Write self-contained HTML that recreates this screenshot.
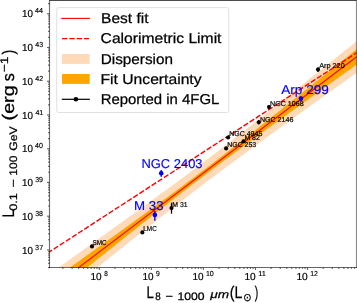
<!DOCTYPE html><html><head><meta charset="utf-8"><style>html,body{margin:0;padding:0;background:#fff;overflow:hidden}svg{display:block;will-change:transform}</style></head><body><svg width="357" height="303" viewBox="0 0 357 303" font-family='"Liberation Sans", sans-serif' text-rendering="geometricPrecision"><rect width="357" height="303" fill="#fff"/><defs><clipPath id="ax"><rect x="49.5" y="0" width="307.0" height="267.5"/></clipPath></defs><g clip-path="url(#ax)"><path d="M47.50,275.57 L50.09,273.72 L52.68,271.86 L55.28,270.00 L57.87,268.15 L60.46,266.29 L63.05,264.43 L65.64,262.58 L68.23,260.72 L70.83,258.86 L73.42,257.00 L76.01,255.14 L78.60,253.28 L81.19,251.42 L83.78,249.56 L86.38,247.70 L88.97,245.84 L91.56,243.98 L94.15,242.12 L96.74,240.26 L99.33,238.39 L101.92,236.53 L104.52,234.66 L107.11,232.80 L109.70,230.93 L112.29,229.07 L114.88,227.20 L117.47,225.33 L120.07,223.46 L122.66,221.59 L125.25,219.72 L127.84,217.85 L130.43,215.97 L133.03,214.10 L135.62,212.22 L138.21,210.34 L140.80,208.46 L143.39,206.58 L145.98,204.70 L148.57,202.81 L151.17,200.93 L153.76,199.04 L156.35,197.15 L158.94,195.25 L161.53,193.36 L164.12,191.46 L166.72,189.56 L169.31,187.65 L171.90,185.74 L174.49,183.83 L177.08,181.91 L179.67,179.99 L182.27,178.07 L184.86,176.14 L187.45,174.21 L190.04,172.27 L192.63,170.33 L195.22,168.38 L197.82,166.43 L200.41,164.47 L203.00,162.51 L205.59,160.54 L208.18,158.57 L210.78,156.59 L213.37,154.61 L215.96,152.62 L218.55,150.63 L221.14,148.63 L223.73,146.63 L226.32,144.63 L228.92,142.62 L231.51,140.60 L234.10,138.58 L236.69,136.56 L239.28,134.54 L241.88,132.51 L244.47,130.48 L247.06,128.45 L249.65,126.41 L252.24,124.37 L254.83,122.33 L257.43,120.29 L260.02,118.24 L262.61,116.19 L265.20,114.14 L267.79,112.09 L270.38,110.04 L272.98,107.98 L275.57,105.93 L278.16,103.87 L280.75,101.81 L283.34,99.75 L285.93,97.69 L288.52,95.63 L291.12,93.57 L293.71,91.51 L296.30,89.44 L298.89,87.38 L301.48,85.31 L304.07,83.25 L306.67,81.18 L309.26,79.11 L311.85,77.04 L314.44,74.97 L317.03,72.90 L319.62,70.83 L322.22,68.76 L324.81,66.69 L327.40,64.62 L329.99,62.55 L332.58,60.48 L335.18,58.40 L337.77,56.33 L340.36,54.26 L342.95,52.18 L345.54,50.11 L348.13,48.04 L350.73,45.96 L353.32,43.89 L355.91,41.81 L358.50,39.74 L358.50,71.41 L355.91,73.27 L353.32,75.12 L350.73,76.98 L348.13,78.84 L345.54,80.69 L342.95,82.55 L340.36,84.41 L337.77,86.27 L335.18,88.12 L332.58,89.98 L329.99,91.84 L327.40,93.70 L324.81,95.56 L322.22,97.42 L319.62,99.28 L317.03,101.14 L314.44,103.01 L311.85,104.87 L309.26,106.73 L306.67,108.59 L304.07,110.46 L301.48,112.32 L298.89,114.19 L296.30,116.05 L293.71,117.92 L291.12,119.79 L288.52,121.66 L285.93,123.53 L283.34,125.40 L280.75,127.27 L278.16,129.14 L275.57,131.02 L272.98,132.89 L270.38,134.77 L267.79,136.65 L265.20,138.53 L262.61,140.41 L260.02,142.29 L257.43,144.18 L254.83,146.07 L252.24,147.96 L249.65,149.85 L247.06,151.74 L244.47,153.64 L241.88,155.54 L239.28,157.44 L236.69,159.35 L234.10,161.26 L231.51,163.17 L228.92,165.09 L226.32,167.01 L223.73,168.94 L221.14,170.87 L218.55,172.80 L215.96,174.74 L213.37,176.68 L210.78,178.63 L208.18,180.59 L205.59,182.54 L203.00,184.51 L200.41,186.48 L197.82,188.45 L195.22,190.43 L192.63,192.41 L190.04,194.40 L187.45,196.40 L184.86,198.39 L182.27,200.40 L179.67,202.40 L177.08,204.42 L174.49,206.43 L171.90,208.45 L169.31,210.47 L166.72,212.50 L164.12,214.53 L161.53,216.56 L158.94,218.59 L156.35,220.63 L153.76,222.67 L151.17,224.71 L148.57,226.76 L145.98,228.80 L143.39,230.85 L140.80,232.90 L138.21,234.95 L135.62,237.01 L133.03,239.06 L130.43,241.12 L127.84,243.17 L125.25,245.23 L122.66,247.29 L120.07,249.35 L117.47,251.41 L114.88,253.48 L112.29,255.54 L109.70,257.61 L107.11,259.67 L104.52,261.74 L101.92,263.80 L99.33,265.87 L96.74,267.94 L94.15,270.01 L91.56,272.08 L88.97,274.15 L86.38,276.22 L83.78,278.29 L81.19,280.36 L78.60,282.43 L76.01,284.50 L73.42,286.57 L70.83,288.65 L68.23,290.72 L65.64,292.79 L63.05,294.87 L60.46,296.94 L57.87,299.01 L55.28,301.09 L52.68,303.16 L50.09,305.24 L47.50,307.31 Z" fill="#FFDAB9"/><path d="M47.50,283.67 L50.09,281.81 L52.68,279.96 L55.28,278.10 L57.87,276.24 L60.46,274.39 L63.05,272.53 L65.64,270.67 L68.23,268.82 L70.83,266.96 L73.42,265.10 L76.01,263.24 L78.60,261.38 L81.19,259.52 L83.78,257.66 L86.38,255.80 L88.97,253.94 L91.56,252.08 L94.15,250.22 L96.74,248.35 L99.33,246.49 L101.92,244.63 L104.52,242.76 L107.11,240.90 L109.70,239.03 L112.29,237.16 L114.88,235.30 L117.47,233.43 L120.07,231.56 L122.66,229.69 L125.25,227.82 L127.84,225.94 L130.43,224.07 L133.03,222.20 L135.62,220.32 L138.21,218.44 L140.80,216.56 L143.39,214.68 L145.98,212.80 L148.57,210.91 L151.17,209.03 L153.76,207.14 L156.35,205.25 L158.94,203.35 L161.53,201.45 L164.12,199.56 L166.72,197.65 L169.31,195.75 L171.90,193.84 L174.49,191.93 L177.08,190.01 L179.67,188.09 L182.27,186.17 L184.86,184.24 L187.45,182.31 L190.04,180.37 L192.63,178.43 L195.22,176.48 L197.82,174.53 L200.41,172.57 L203.00,170.61 L205.59,168.64 L208.18,166.67 L210.78,164.69 L213.37,162.71 L215.96,160.72 L218.55,158.73 L221.14,156.73 L223.73,154.73 L226.32,152.72 L228.92,150.71 L231.51,148.70 L234.10,146.68 L236.69,144.66 L239.28,142.64 L241.88,140.61 L244.47,138.58 L247.06,136.54 L249.65,134.51 L252.24,132.47 L254.83,130.43 L257.43,128.38 L260.02,126.34 L262.61,124.29 L265.20,122.24 L267.79,120.19 L270.38,118.14 L272.98,116.08 L275.57,114.03 L278.16,111.97 L280.75,109.91 L283.34,107.85 L285.93,105.79 L288.52,103.73 L291.12,101.67 L293.71,99.60 L296.30,97.54 L298.89,95.47 L301.48,93.41 L304.07,91.34 L306.67,89.28 L309.26,87.21 L311.85,85.14 L314.44,83.07 L317.03,81.00 L319.62,78.93 L322.22,76.86 L324.81,74.79 L327.40,72.72 L329.99,70.65 L332.58,68.57 L335.18,66.50 L337.77,64.43 L340.36,62.36 L342.95,60.28 L345.54,58.21 L348.13,56.13 L350.73,54.06 L353.32,51.98 L355.91,49.91 L358.50,47.83 L358.50,63.31 L355.91,65.17 L353.32,67.03 L350.73,68.88 L348.13,70.74 L345.54,72.60 L342.95,74.45 L340.36,76.31 L337.77,78.17 L335.18,80.03 L332.58,81.89 L329.99,83.74 L327.40,85.60 L324.81,87.46 L322.22,89.32 L319.62,91.18 L317.03,93.05 L314.44,94.91 L311.85,96.77 L309.26,98.63 L306.67,100.50 L304.07,102.36 L301.48,104.22 L298.89,106.09 L296.30,107.96 L293.71,109.82 L291.12,111.69 L288.52,113.56 L285.93,115.43 L283.34,117.30 L280.75,119.17 L278.16,121.04 L275.57,122.92 L272.98,124.79 L270.38,126.67 L267.79,128.55 L265.20,130.43 L262.61,132.31 L260.02,134.19 L257.43,136.08 L254.83,137.97 L252.24,139.86 L249.65,141.75 L247.06,143.64 L244.47,145.54 L241.88,147.44 L239.28,149.35 L236.69,151.25 L234.10,153.16 L231.51,155.08 L228.92,156.99 L226.32,158.91 L223.73,160.84 L221.14,162.77 L218.55,164.70 L215.96,166.64 L213.37,168.59 L210.78,170.53 L208.18,172.49 L205.59,174.45 L203.00,176.41 L200.41,178.38 L197.82,180.35 L195.22,182.33 L192.63,184.32 L190.04,186.31 L187.45,188.30 L184.86,190.30 L182.27,192.30 L179.67,194.31 L177.08,196.32 L174.49,198.33 L171.90,200.35 L169.31,202.37 L166.72,204.40 L164.12,206.43 L161.53,208.46 L158.94,210.50 L156.35,212.53 L153.76,214.57 L151.17,216.61 L148.57,218.66 L145.98,220.71 L143.39,222.75 L140.80,224.80 L138.21,226.85 L135.62,228.91 L133.03,230.96 L130.43,233.02 L127.84,235.08 L125.25,237.13 L122.66,239.19 L120.07,241.26 L117.47,243.32 L114.88,245.38 L112.29,247.44 L109.70,249.51 L107.11,251.57 L104.52,253.64 L101.92,255.71 L99.33,257.77 L96.74,259.84 L94.15,261.91 L91.56,263.98 L88.97,266.05 L86.38,268.12 L83.78,270.19 L81.19,272.26 L78.60,274.33 L76.01,276.40 L73.42,278.48 L70.83,280.55 L68.23,282.62 L65.64,284.70 L63.05,286.77 L60.46,288.84 L57.87,290.92 L55.28,292.99 L52.68,295.07 L50.09,297.14 L47.50,299.22 Z" fill="#FFA500"/><line x1="47.50" y1="291.24" x2="358.50" y2="55.37" stroke="#FF0000" stroke-width="1.1"/><line x1="47.50" y1="253.14" x2="358.50" y2="51.54" stroke="#FF0000" stroke-width="1.4" stroke-dasharray="5.4 1.9"/></g><circle cx="92.0" cy="246.4" r="2.05" fill="#000"/><circle cx="142.35" cy="232.4" r="2.05" fill="#000"/><line x1="171.5" y1="202.7" x2="171.5" y2="213.7" stroke="#000" stroke-width="1.25"/><circle cx="171.5" cy="208.1" r="2.05" fill="#000"/><circle cx="226.1" cy="148.4" r="2.05" fill="#000"/><circle cx="228.1" cy="137.5" r="2.05" fill="#000"/><circle cx="243.5" cy="141.3" r="2.05" fill="#000"/><line x1="258.8" y1="119.9" x2="258.8" y2="124.5" stroke="#000" stroke-width="1.25"/><circle cx="258.8" cy="122.2" r="2.05" fill="#000"/><line x1="269.0" y1="105.3" x2="269.0" y2="108.69999999999999" stroke="#000" stroke-width="1.25"/><circle cx="269.0" cy="107.1" r="2.05" fill="#000"/><line x1="318.0" y1="67.3" x2="318.0" y2="72.0" stroke="#000" stroke-width="1.25"/><circle cx="318.0" cy="69.6" r="2.05" fill="#000"/><line x1="161.25" y1="170.0" x2="161.25" y2="176.8" stroke="#0000ff" stroke-width="1.4"/><circle cx="161.25" cy="173.3" r="2.3" fill="#0000ff"/><line x1="154.85" y1="210.9" x2="154.85" y2="220.8" stroke="#0000ff" stroke-width="1.4"/><circle cx="154.85" cy="214.9" r="2.3" fill="#0000ff"/><line x1="300.95" y1="96.19999999999999" x2="300.95" y2="101.0" stroke="#0000ff" stroke-width="1.4"/><circle cx="300.95" cy="98.6" r="2.3" fill="#0000ff"/><g stroke="#000" stroke-width="1.15" stroke-opacity="0.58" fill="none"></g><line x1="49.5" y1="0" x2="49.5" y2="268.1" stroke="#000" stroke-width="1.15" stroke-opacity="0.56"/><line x1="48.9" y1="267.5" x2="357.1" y2="267.5" stroke="#000" stroke-width="1.15" stroke-opacity="0.6"/><line x1="356.5" y1="0" x2="356.5" y2="268.1" stroke="#000" stroke-width="1.15" stroke-opacity="0.46"/><line x1="49.5" y1="0.5" x2="356.5" y2="0.5" stroke="#000" stroke-width="1" stroke-opacity="0.7"/><g stroke="#000" stroke-width="1.15" stroke-opacity="0.58" fill="none"><line x1="62.92" y1="267.5" x2="62.92" y2="268.9"/><line x1="72.08" y1="267.5" x2="72.08" y2="268.9"/><line x1="78.59" y1="267.5" x2="78.59" y2="268.9"/><line x1="83.63" y1="267.5" x2="83.63" y2="268.9"/><line x1="87.75" y1="267.5" x2="87.75" y2="268.9"/><line x1="91.24" y1="267.5" x2="91.24" y2="268.9"/><line x1="94.26" y1="267.5" x2="94.26" y2="268.9"/><line x1="96.92" y1="267.5" x2="96.92" y2="268.9"/><line x1="99.30" y1="267.5" x2="99.30" y2="270.0"/><line x1="114.97" y1="267.5" x2="114.97" y2="268.9"/><line x1="124.13" y1="267.5" x2="124.13" y2="268.9"/><line x1="130.64" y1="267.5" x2="130.64" y2="268.9"/><line x1="135.68" y1="267.5" x2="135.68" y2="268.9"/><line x1="139.80" y1="267.5" x2="139.80" y2="268.9"/><line x1="143.29" y1="267.5" x2="143.29" y2="268.9"/><line x1="146.31" y1="267.5" x2="146.31" y2="268.9"/><line x1="148.97" y1="267.5" x2="148.97" y2="268.9"/><line x1="151.35" y1="267.5" x2="151.35" y2="270.0"/><line x1="167.02" y1="267.5" x2="167.02" y2="268.9"/><line x1="176.18" y1="267.5" x2="176.18" y2="268.9"/><line x1="182.69" y1="267.5" x2="182.69" y2="268.9"/><line x1="187.73" y1="267.5" x2="187.73" y2="268.9"/><line x1="191.85" y1="267.5" x2="191.85" y2="268.9"/><line x1="195.34" y1="267.5" x2="195.34" y2="268.9"/><line x1="198.36" y1="267.5" x2="198.36" y2="268.9"/><line x1="201.02" y1="267.5" x2="201.02" y2="268.9"/><line x1="203.40" y1="267.5" x2="203.40" y2="270.0"/><line x1="219.07" y1="267.5" x2="219.07" y2="268.9"/><line x1="228.23" y1="267.5" x2="228.23" y2="268.9"/><line x1="234.74" y1="267.5" x2="234.74" y2="268.9"/><line x1="239.78" y1="267.5" x2="239.78" y2="268.9"/><line x1="243.90" y1="267.5" x2="243.90" y2="268.9"/><line x1="247.39" y1="267.5" x2="247.39" y2="268.9"/><line x1="250.41" y1="267.5" x2="250.41" y2="268.9"/><line x1="253.07" y1="267.5" x2="253.07" y2="268.9"/><line x1="255.45" y1="267.5" x2="255.45" y2="270.0"/><line x1="271.12" y1="267.5" x2="271.12" y2="268.9"/><line x1="280.28" y1="267.5" x2="280.28" y2="268.9"/><line x1="286.79" y1="267.5" x2="286.79" y2="268.9"/><line x1="291.83" y1="267.5" x2="291.83" y2="268.9"/><line x1="295.95" y1="267.5" x2="295.95" y2="268.9"/><line x1="299.44" y1="267.5" x2="299.44" y2="268.9"/><line x1="302.46" y1="267.5" x2="302.46" y2="268.9"/><line x1="305.12" y1="267.5" x2="305.12" y2="268.9"/><line x1="307.50" y1="267.5" x2="307.50" y2="270.0"/><line x1="323.17" y1="267.5" x2="323.17" y2="268.9"/><line x1="332.33" y1="267.5" x2="332.33" y2="268.9"/><line x1="338.84" y1="267.5" x2="338.84" y2="268.9"/><line x1="343.88" y1="267.5" x2="343.88" y2="268.9"/><line x1="348.00" y1="267.5" x2="348.00" y2="268.9"/><line x1="351.49" y1="267.5" x2="351.49" y2="268.9"/><line x1="354.51" y1="267.5" x2="354.51" y2="268.9"/><line x1="49.5" y1="267.57" x2="48.1" y2="267.57"/><line x1="49.5" y1="263.36" x2="48.1" y2="263.36"/><line x1="49.5" y1="260.09" x2="48.1" y2="260.09"/><line x1="49.5" y1="257.42" x2="48.1" y2="257.42"/><line x1="49.5" y1="255.16" x2="48.1" y2="255.16"/><line x1="49.5" y1="253.20" x2="48.1" y2="253.20"/><line x1="49.5" y1="251.47" x2="48.1" y2="251.47"/><line x1="49.5" y1="249.93" x2="47.0" y2="249.93"/><line x1="49.5" y1="239.77" x2="48.1" y2="239.77"/><line x1="49.5" y1="233.83" x2="48.1" y2="233.83"/><line x1="49.5" y1="229.62" x2="48.1" y2="229.62"/><line x1="49.5" y1="226.35" x2="48.1" y2="226.35"/><line x1="49.5" y1="223.68" x2="48.1" y2="223.68"/><line x1="49.5" y1="221.42" x2="48.1" y2="221.42"/><line x1="49.5" y1="219.46" x2="48.1" y2="219.46"/><line x1="49.5" y1="217.73" x2="48.1" y2="217.73"/><line x1="49.5" y1="216.19" x2="47.0" y2="216.19"/><line x1="49.5" y1="206.03" x2="48.1" y2="206.03"/><line x1="49.5" y1="200.09" x2="48.1" y2="200.09"/><line x1="49.5" y1="195.88" x2="48.1" y2="195.88"/><line x1="49.5" y1="192.61" x2="48.1" y2="192.61"/><line x1="49.5" y1="189.94" x2="48.1" y2="189.94"/><line x1="49.5" y1="187.68" x2="48.1" y2="187.68"/><line x1="49.5" y1="185.72" x2="48.1" y2="185.72"/><line x1="49.5" y1="183.99" x2="48.1" y2="183.99"/><line x1="49.5" y1="182.45" x2="47.0" y2="182.45"/><line x1="49.5" y1="172.29" x2="48.1" y2="172.29"/><line x1="49.5" y1="166.35" x2="48.1" y2="166.35"/><line x1="49.5" y1="162.14" x2="48.1" y2="162.14"/><line x1="49.5" y1="158.87" x2="48.1" y2="158.87"/><line x1="49.5" y1="156.20" x2="48.1" y2="156.20"/><line x1="49.5" y1="153.94" x2="48.1" y2="153.94"/><line x1="49.5" y1="151.98" x2="48.1" y2="151.98"/><line x1="49.5" y1="150.25" x2="48.1" y2="150.25"/><line x1="49.5" y1="148.71" x2="47.0" y2="148.71"/><line x1="49.5" y1="138.55" x2="48.1" y2="138.55"/><line x1="49.5" y1="132.61" x2="48.1" y2="132.61"/><line x1="49.5" y1="128.40" x2="48.1" y2="128.40"/><line x1="49.5" y1="125.13" x2="48.1" y2="125.13"/><line x1="49.5" y1="122.46" x2="48.1" y2="122.46"/><line x1="49.5" y1="120.20" x2="48.1" y2="120.20"/><line x1="49.5" y1="118.24" x2="48.1" y2="118.24"/><line x1="49.5" y1="116.51" x2="48.1" y2="116.51"/><line x1="49.5" y1="114.97" x2="47.0" y2="114.97"/><line x1="49.5" y1="104.81" x2="48.1" y2="104.81"/><line x1="49.5" y1="98.87" x2="48.1" y2="98.87"/><line x1="49.5" y1="94.66" x2="48.1" y2="94.66"/><line x1="49.5" y1="91.39" x2="48.1" y2="91.39"/><line x1="49.5" y1="88.72" x2="48.1" y2="88.72"/><line x1="49.5" y1="86.46" x2="48.1" y2="86.46"/><line x1="49.5" y1="84.50" x2="48.1" y2="84.50"/><line x1="49.5" y1="82.77" x2="48.1" y2="82.77"/><line x1="49.5" y1="81.23" x2="47.0" y2="81.23"/><line x1="49.5" y1="71.07" x2="48.1" y2="71.07"/><line x1="49.5" y1="65.13" x2="48.1" y2="65.13"/><line x1="49.5" y1="60.92" x2="48.1" y2="60.92"/><line x1="49.5" y1="57.65" x2="48.1" y2="57.65"/><line x1="49.5" y1="54.98" x2="48.1" y2="54.98"/><line x1="49.5" y1="52.72" x2="48.1" y2="52.72"/><line x1="49.5" y1="50.76" x2="48.1" y2="50.76"/><line x1="49.5" y1="49.03" x2="48.1" y2="49.03"/><line x1="49.5" y1="47.49" x2="47.0" y2="47.49"/><line x1="49.5" y1="37.33" x2="48.1" y2="37.33"/><line x1="49.5" y1="31.39" x2="48.1" y2="31.39"/><line x1="49.5" y1="27.18" x2="48.1" y2="27.18"/><line x1="49.5" y1="23.91" x2="48.1" y2="23.91"/><line x1="49.5" y1="21.24" x2="48.1" y2="21.24"/><line x1="49.5" y1="18.98" x2="48.1" y2="18.98"/><line x1="49.5" y1="17.02" x2="48.1" y2="17.02"/><line x1="49.5" y1="15.29" x2="48.1" y2="15.29"/><line x1="49.5" y1="13.75" x2="47.0" y2="13.75"/><line x1="49.5" y1="3.59" x2="48.1" y2="3.59"/></g><rect x="56.7" y="7.6" width="172.1" height="104.9" rx="2.2" fill="#fff" fill-opacity="0.8" stroke="#dadada" stroke-width="0.85"/><line x1="61.3" y1="18.4" x2="89.9" y2="18.4" stroke="#FF0000" stroke-width="1.1"/><line x1="62" y1="38.65" x2="89" y2="38.65" stroke="#FF0000" stroke-width="1.4" stroke-dasharray="5.4 1.9"/><rect x="62" y="54" width="27.7" height="9.9" fill="#FFDAB9"/><rect x="62" y="74" width="27.7" height="9.9" fill="#FFA500"/><line x1="61.8" y1="99.3" x2="89.8" y2="99.3" stroke="#000" stroke-width="1.2"/><circle cx="75.9" cy="99.3" r="2.3" fill="#000"/><text x="101.11" y="23.30" font-size="14.3" fill="#000" textLength="47.32" lengthAdjust="spacingAndGlyphs" stroke="#000" stroke-width="0.25">Best fit</text><text x="100.58" y="43.40" font-size="14.3" fill="#000" textLength="120.88" lengthAdjust="spacingAndGlyphs" stroke="#000" stroke-width="0.25">Calorimetric Limit</text><text x="100.68" y="63.50" font-size="14.3" fill="#000" textLength="72.32" lengthAdjust="spacingAndGlyphs" stroke="#000" stroke-width="0.25">Dispersion</text><text x="100.53" y="83.60" font-size="14.3" fill="#000" textLength="101.03" lengthAdjust="spacingAndGlyphs" stroke="#000" stroke-width="0.25">Fit Uncertainty</text><text x="100.66" y="103.70" font-size="14.3" fill="#000" textLength="118.74" lengthAdjust="spacingAndGlyphs" stroke="#000" stroke-width="0.25">Reported in 4FGL</text><text x="92.42" y="244.80" font-size="7.1" fill="#000" textLength="14.16" lengthAdjust="spacingAndGlyphs" stroke="#000" stroke-width="0.2">SMC</text><text x="143.34" y="231.00" font-size="7.1" fill="#000" textLength="13.43" lengthAdjust="spacingAndGlyphs" stroke="#000" stroke-width="0.2">LMC</text><text x="172.26" y="206.70" font-size="7.1" fill="#000" textLength="15.34" lengthAdjust="spacingAndGlyphs" stroke="#000" stroke-width="0.2">M 31</text><text x="229.15" y="136.20" font-size="7.1" fill="#000" textLength="33.21" lengthAdjust="spacingAndGlyphs" stroke="#000" stroke-width="0.2">NGC 4945</text><text x="244.42" y="140.00" font-size="7.1" fill="#000" textLength="15.37" lengthAdjust="spacingAndGlyphs" stroke="#000" stroke-width="0.2">M 82</text><text x="227.35" y="146.90" font-size="7.1" fill="#000" textLength="28.80" lengthAdjust="spacingAndGlyphs" stroke="#000" stroke-width="0.2">NGC 253</text><text x="259.90" y="121.80" font-size="7.1" fill="#000" textLength="33.44" lengthAdjust="spacingAndGlyphs" stroke="#000" stroke-width="0.2">NGC 2146</text><text x="270.06" y="105.90" font-size="7.1" fill="#000" textLength="33.63" lengthAdjust="spacingAndGlyphs" stroke="#000" stroke-width="0.2">NGC 1068</text><text x="319.17" y="67.90" font-size="7.1" fill="#000" textLength="25.58" lengthAdjust="spacingAndGlyphs" stroke="#000" stroke-width="0.2">Arp 220</text><text x="141.50" y="167.70" font-size="12.9" fill="#0000ff" textLength="61.01" lengthAdjust="spacingAndGlyphs" stroke="#0000ff" stroke-width="0.15">NGC 2403</text><text x="134.12" y="209.50" font-size="12.9" fill="#0000ff" textLength="29.53" lengthAdjust="spacingAndGlyphs" stroke="#0000ff" stroke-width="0.15">M 33</text><text x="281.29" y="93.80" font-size="12.9" fill="#0000ff" textLength="47.55" lengthAdjust="spacingAndGlyphs" stroke="#0000ff" stroke-width="0.15">Arp 299</text><text x="90.48" y="280.20" font-size="10.2" fill="#000" textLength="11.15" lengthAdjust="spacingAndGlyphs" stroke="#000" stroke-width="0.2">10</text><text x="104.20" y="275.90" font-size="7.3" fill="#000" textLength="3.54" lengthAdjust="spacingAndGlyphs" stroke="#000" stroke-width="0.15">8</text><text x="142.52" y="280.20" font-size="10.2" fill="#000" textLength="11.06" lengthAdjust="spacingAndGlyphs" stroke="#000" stroke-width="0.2">10</text><text x="155.96" y="275.90" font-size="7.3" fill="#000" textLength="3.74" lengthAdjust="spacingAndGlyphs" stroke="#000" stroke-width="0.15">9</text><text x="192.57" y="280.20" font-size="10.2" fill="#000" textLength="11.10" lengthAdjust="spacingAndGlyphs" stroke="#000" stroke-width="0.2">10</text><text x="205.90" y="275.90" font-size="7.3" fill="#000" textLength="7.88" lengthAdjust="spacingAndGlyphs" stroke="#000" stroke-width="0.15">10</text><text x="244.47" y="280.20" font-size="10.2" fill="#000" textLength="11.30" lengthAdjust="spacingAndGlyphs" stroke="#000" stroke-width="0.2">10</text><text x="258.22" y="275.90" font-size="7.3" fill="#000" textLength="7.75" lengthAdjust="spacingAndGlyphs" stroke="#000" stroke-width="0.15">11</text><text x="296.44" y="280.20" font-size="10.2" fill="#000" textLength="11.35" lengthAdjust="spacingAndGlyphs" stroke="#000" stroke-width="0.2">10</text><text x="310.24" y="275.90" font-size="7.3" fill="#000" textLength="7.70" lengthAdjust="spacingAndGlyphs" stroke="#000" stroke-width="0.15">12</text><text x="22.12" y="253.58" font-size="10.2" fill="#000" textLength="10.93" lengthAdjust="spacingAndGlyphs" stroke="#000" stroke-width="0.2">10</text><text x="35.12" y="249.53" font-size="7.3" fill="#000" textLength="8.06" lengthAdjust="spacingAndGlyphs" stroke="#000" stroke-width="0.15">37</text><text x="22.12" y="219.84" font-size="10.2" fill="#000" textLength="10.93" lengthAdjust="spacingAndGlyphs" stroke="#000" stroke-width="0.2">10</text><text x="35.21" y="215.79" font-size="7.3" fill="#000" textLength="7.80" lengthAdjust="spacingAndGlyphs" stroke="#000" stroke-width="0.15">38</text><text x="22.12" y="186.10" font-size="10.2" fill="#000" textLength="10.93" lengthAdjust="spacingAndGlyphs" stroke="#000" stroke-width="0.2">10</text><text x="35.21" y="182.05" font-size="7.3" fill="#000" textLength="7.80" lengthAdjust="spacingAndGlyphs" stroke="#000" stroke-width="0.15">39</text><text x="22.12" y="152.36" font-size="10.2" fill="#000" textLength="10.93" lengthAdjust="spacingAndGlyphs" stroke="#000" stroke-width="0.2">10</text><text x="35.05" y="148.31" font-size="7.3" fill="#000" textLength="7.86" lengthAdjust="spacingAndGlyphs" stroke="#000" stroke-width="0.15">40</text><text x="22.12" y="118.62" font-size="10.2" fill="#000" textLength="10.93" lengthAdjust="spacingAndGlyphs" stroke="#000" stroke-width="0.2">10</text><text x="35.40" y="114.57" font-size="7.3" fill="#000" textLength="7.94" lengthAdjust="spacingAndGlyphs" stroke="#000" stroke-width="0.15">41</text><text x="22.12" y="84.88" font-size="10.2" fill="#000" textLength="10.93" lengthAdjust="spacingAndGlyphs" stroke="#000" stroke-width="0.2">10</text><text x="35.23" y="80.83" font-size="7.3" fill="#000" textLength="7.95" lengthAdjust="spacingAndGlyphs" stroke="#000" stroke-width="0.15">42</text><text x="22.12" y="51.14" font-size="10.2" fill="#000" textLength="10.93" lengthAdjust="spacingAndGlyphs" stroke="#000" stroke-width="0.2">10</text><text x="35.26" y="47.09" font-size="7.3" fill="#000" textLength="7.77" lengthAdjust="spacingAndGlyphs" stroke="#000" stroke-width="0.15">43</text><text x="22.12" y="17.40" font-size="10.2" fill="#000" textLength="10.93" lengthAdjust="spacingAndGlyphs" stroke="#000" stroke-width="0.2">10</text><text x="35.11" y="13.35" font-size="7.3" fill="#000" textLength="7.94" lengthAdjust="spacingAndGlyphs" stroke="#000" stroke-width="0.15">44</text><text x="146.57" y="297.80" font-size="16.8" fill="#000" textLength="7.36" lengthAdjust="spacingAndGlyphs" stroke="#000" stroke-width="0.25">L</text><text x="155.33" y="300.40" font-size="10.9" fill="#000" textLength="5.47" lengthAdjust="spacingAndGlyphs" stroke="#000" stroke-width="0.25">8</text><text x="165.43" y="300.40" font-size="10.9" fill="#000" textLength="7.47" lengthAdjust="spacingAndGlyphs" stroke="#000" stroke-width="0.25">−</text><text x="177.47" y="300.40" font-size="10.9" fill="#000" textLength="27.11" lengthAdjust="spacingAndGlyphs" stroke="#000" stroke-width="0.25">1000</text><text x="210.28" y="298.40" font-size="10.9" fill="#000" textLength="18.84" lengthAdjust="spacingAndGlyphs" font-style="italic" stroke="#000" stroke-width="0.25">μm</text><text x="229.83" y="298.40" font-size="16.8" fill="#000" textLength="12.64" lengthAdjust="spacingAndGlyphs" stroke="#000" stroke-width="0.25">(L</text><text x="243.37" y="300.80" font-size="10.9" fill="#000" textLength="8.36" lengthAdjust="spacingAndGlyphs" stroke="#000" stroke-width="0.25">⊙</text><text x="254.76" y="298.40" font-size="16.8" fill="#000" textLength="3.46" lengthAdjust="spacingAndGlyphs" stroke="#000" stroke-width="0.25">)</text><text transform="translate(14.20,0) rotate(-90)" x="-217.60" y="0" font-size="16.8" fill="#000" textLength="7.93" lengthAdjust="spacingAndGlyphs" stroke="#000" stroke-width="0.25">L</text><text transform="translate(16.90,0) rotate(-90)" x="-210.72" y="0" font-size="10.9" fill="#000" textLength="17.53" lengthAdjust="spacingAndGlyphs" stroke="#000" stroke-width="0.25">0.1</text><text transform="translate(16.90,0) rotate(-90)" x="-187.41" y="0" font-size="10.9" fill="#000" textLength="8.43" lengthAdjust="spacingAndGlyphs" stroke="#000" stroke-width="0.25">−</text><text transform="translate(16.90,0) rotate(-90)" x="-175.74" y="0" font-size="10.9" fill="#000" textLength="20.07" lengthAdjust="spacingAndGlyphs" stroke="#000" stroke-width="0.25">100</text><text transform="translate(16.90,0) rotate(-90)" x="-150.80" y="0" font-size="10.9" fill="#000" textLength="24.53" lengthAdjust="spacingAndGlyphs" stroke="#000" stroke-width="0.25">GeV</text><text transform="translate(14.20,0) rotate(-90)" x="-120.44" y="0" font-size="16.8" fill="#000" textLength="35.07" lengthAdjust="spacingAndGlyphs" stroke="#000" stroke-width="0.25">(erg</text><text transform="translate(14.20,0) rotate(-90)" x="-81.24" y="0" font-size="16.8" fill="#000" textLength="8.08" lengthAdjust="spacingAndGlyphs" stroke="#000" stroke-width="0.25">s</text><text transform="translate(8.20,0) rotate(-90)" x="-72.23" y="0" font-size="10.9" fill="#000" textLength="15.72" lengthAdjust="spacingAndGlyphs" stroke="#000" stroke-width="0.25">−1</text><text transform="translate(14.20,0) rotate(-90)" x="-54.52" y="0" font-size="16.8" fill="#000" textLength="4.91" lengthAdjust="spacingAndGlyphs" stroke="#000" stroke-width="0.25">)</text></svg></body></html>
